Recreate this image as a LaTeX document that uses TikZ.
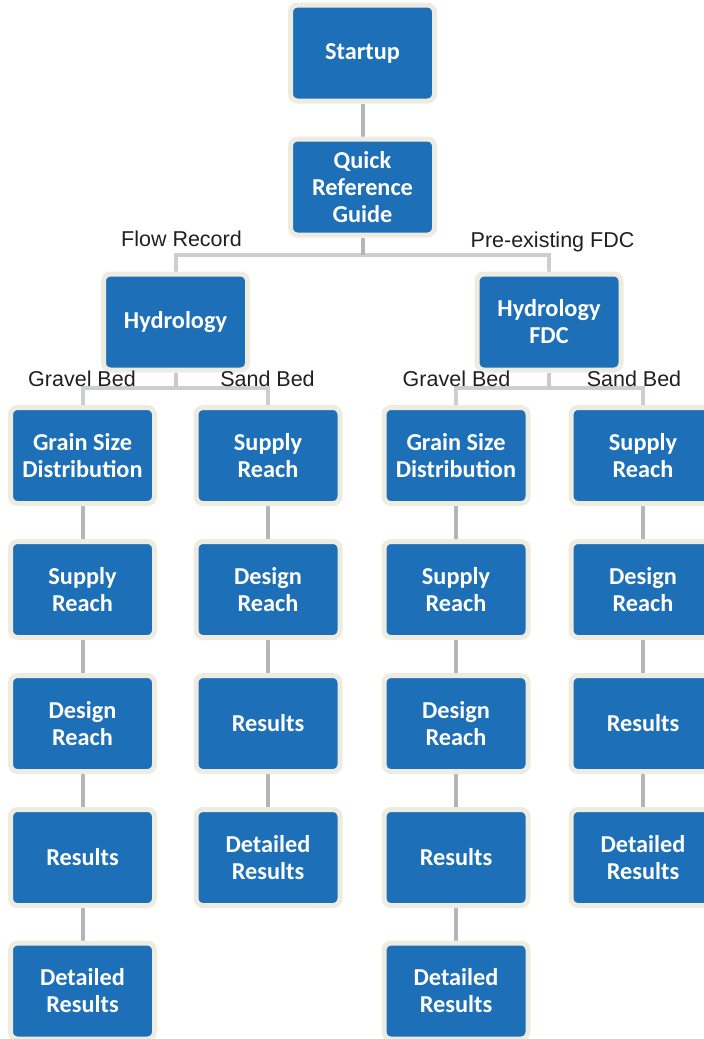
\documentclass[tikz,border=0pt]{standalone}
\usepackage{fontspec}
\setmainfont{Liberation Sans}
\newfontfamily\boxfont{Carlito}
\usetikzlibrary{backgrounds}
\definecolor{boxblue}{HTML}{1D70B8}
\definecolor{boxrim}{HTML}{EEEBE0}
\definecolor{chain}{HTML}{B5B5B9}
\definecolor{tree}{HTML}{CDCED1}
\definecolor{labeltext}{HTML}{231F20}

\begin{document}
\begin{tikzpicture}[x=1pt,y=-1pt,
  stepbox/.style={draw=boxrim, line width=5pt, fill=boxblue, rounded corners=7pt,
    minimum width=144pt, minimum height=96pt, inner sep=0pt, align=center,
    text=white, font=\boxfont\bfseries\fontsize{24.3}{27}\selectfont},
  chainline/.style={draw=chain, line width=4pt},
  treeline/.style={draw=tree, line width=4pt},
  branch/.style={font=\fontsize{21.5}{24}\selectfont, text=labeltext, inner sep=0pt, anchor=base}]

\useasboundingbox (0,0) rectangle (704,1039);

% top of the tree
\node[stepbox] (start) at (362.5,53) {Startup};
\node[stepbox] (qrg) at (362.5,187) {Quick\\Reference\\Guide};
\node[stepbox] (hyd) at (175.5,322) {Hydrology};
\node[stepbox] (fdc) at (549,322) {Hydrology\\FDC};

% junction points of the branch lines
\coordinate (j1) at (362.5,255);
\coordinate (j2) at (175.5,388);
\coordinate (j3) at (549,388);

% column 1: gravel bed under Hydrology
\node[stepbox] (ga1) at (82.5,455.5) {Grain Size\\Distribution};
\node[stepbox] (ga2) at (82.5,589.5) {Supply\\Reach};
\node[stepbox] (ga3) at (82.5,723.5) {Design\\Reach};
\node[stepbox] (ga4) at (82.5,857.5) {Results};
\node[stepbox] (ga5) at (82.5,991) {Detailed\\Results};

% column 2: sand bed under Hydrology
\node[stepbox] (sa1) at (268,455.5) {Supply\\Reach};
\node[stepbox] (sa2) at (268,589.5) {Design\\Reach};
\node[stepbox] (sa3) at (268,723.5) {Results};
\node[stepbox] (sa4) at (268,857.5) {Detailed\\Results};

% column 3: gravel bed under Hydrology FDC
\node[stepbox] (gb1) at (456,455.5) {Grain Size\\Distribution};
\node[stepbox] (gb2) at (456,589.5) {Supply\\Reach};
\node[stepbox] (gb3) at (456,723.5) {Design\\Reach};
\node[stepbox] (gb4) at (456,857.5) {Results};
\node[stepbox] (gb5) at (456,991) {Detailed\\Results};

% column 4: sand bed under Hydrology FDC
\node[stepbox] (sb1) at (643,455.5) {Supply\\Reach};
\node[stepbox] (sb2) at (643,589.5) {Design\\Reach};
\node[stepbox] (sb3) at (643,723.5) {Results};
\node[stepbox] (sb4) at (643,857.5) {Detailed\\Results};

% branch labels
\node[branch] (lflow) at (181.5,246) {Flow Record};
\node[branch] (lpre) at (552.5,247) {Pre-existing FDC};
\node[branch] (lgra) at (82,386) {Gravel Bed};
\node[branch] (lsaa) at (267.5,386) {Sand Bed};
\node[branch] (lgrb) at (456.5,386) {Gravel Bed};
\node[branch] (lsab) at (634,386) {Sand Bed};

\begin{scope}[on background layer]
  % branch lines
  \draw[treeline] (hyd.north) |- (j1) -| (fdc.north);
  \draw[treeline] (ga1.north) |- (j2) -| (sa1.north);
  \draw[treeline] (gb1.north) |- (j3) -| (sb1.north);
  \draw[chainline] (qrg.south) -- (j1);
  \draw[chainline, draw=tree!85!chain] (hyd.south) -- (j2);
  \draw[chainline, draw=tree!85!chain] (fdc.south) -- (j3);
  % sequential steps
  \draw[chainline] (start) -- (qrg);
  \draw[chainline] (ga1) -- (ga2) -- (ga3) -- (ga4) -- (ga5);
  \draw[chainline] (sa1) -- (sa2) -- (sa3) -- (sa4);
  \draw[chainline] (gb1) -- (gb2) -- (gb3) -- (gb4) -- (gb5);
  \draw[chainline] (sb1) -- (sb2) -- (sb3) -- (sb4);
\end{scope}
\end{tikzpicture}
\end{document}
